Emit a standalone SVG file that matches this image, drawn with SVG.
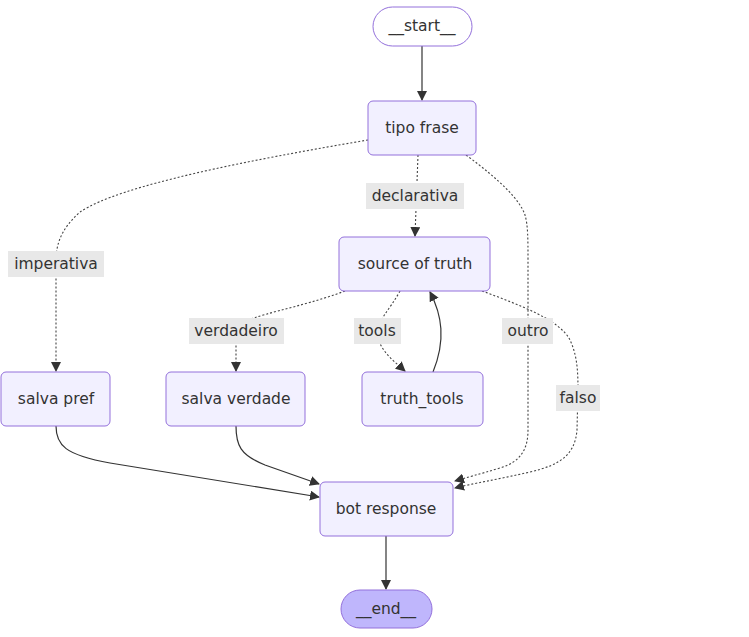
<svg xmlns="http://www.w3.org/2000/svg" width="749" height="637" viewBox="0 0 749 637">
<style>
.node rect{fill:#f2f0ff;stroke:#9370DB;stroke-width:1}
.start rect{fill:#ffffff}
.end rect{fill:#bfb6fc}
text{font-family:"DejaVu Sans","Verdana",sans-serif;font-size:15.5px;fill:#333;text-anchor:middle;dominant-baseline:central}
.e{fill:none;stroke:#333;stroke-width:1.2}
.d{stroke-dasharray:2 2;stroke:#444;stroke-width:1.1}
.lbl rect{fill:#e8e8e8}
</style>
<defs>
<marker id="arr" viewBox="0 0 10 10" refX="9" refY="5" markerWidth="10" markerHeight="10" markerUnits="userSpaceOnUse" orient="auto">
<path d="M0,0 L10,5 L0,10 z" fill="#333"/>
</marker>
</defs>
<rect width="749" height="637" fill="#ffffff"/>
<g id="connectors">
<path class="e" d="M422,46 L422,100" marker-end="url(#arr)"/>
<path class="e d" d="M368,140 C250,160 120,185 80,212 C60,230 56,245 56,262 L56,371" marker-end="url(#arr)"/>
<path class="e d" d="M418,155 L415,236" marker-end="url(#arr)"/>
<path class="e d" d="M466,155 C500,180 520,200 525,215 C528,225 528,240 528,260 L528,430 C528,450 520,462 500,468 C480,474 465,478 455,481" marker-end="url(#arr)"/>
<path class="e d" d="M345,291 C300,308 250,315 240,325 C236,330 236,335 236,345 L236,371" marker-end="url(#arr)"/>
<path class="e d" d="M400,291 C390,310 375,322 378,337 C381,352 395,362 405,371" marker-end="url(#arr)"/>
<path class="e" d="M433,372 C446,340 442,315 430,292" marker-end="url(#arr)"/>
<path class="e d" d="M482,291 C520,305 560,320 570,340 C577,355 578,370 578,390 L577,430 C575,455 560,465 530,472 C500,479 470,484 455,488" marker-end="url(#arr)"/>
<path class="e" d="M56,426 C56,445 65,455 110,463 L319,497" marker-end="url(#arr)"/>
<path class="e" d="M236,426 C236,445 240,455 265,465 L319,484" marker-end="url(#arr)"/>
<path class="e" d="M386,536 L386,589" marker-end="url(#arr)"/>
</g>
<g id="labels">
<g class="lbl"><rect x="366" y="183" width="98" height="26"/><text x="415" y="196">declarativa</text></g>
<g class="lbl"><rect x="8" y="251" width="96" height="26"/><text x="56" y="264">imperativa</text></g>
<g class="lbl"><rect x="189" y="318" width="95" height="26"/><text x="236" y="331">verdadeiro</text></g>
<g class="lbl"><rect x="354" y="318" width="47" height="26"/><text x="377" y="331">tools</text></g>
<g class="lbl"><rect x="502" y="318" width="51" height="26"/><text x="528" y="331">outro</text></g>
<g class="lbl"><rect x="556" y="385" width="44" height="26"/><text x="578" y="398">falso</text></g>
</g>
<g id="start" class="node start"><rect x="373" y="7" width="99" height="39" rx="19.5"/><text x="422" y="26">__start__</text></g>
<g id="tipo_frase" class="node"><rect x="368" y="101" width="108" height="54" rx="5"/><text x="422" y="128">tipo frase</text></g>
<g id="source_of_truth" class="node"><rect x="339" y="237" width="151" height="54" rx="5"/><text x="415" y="264">source of truth</text></g>
<g id="salva_pref" class="node"><rect x="1" y="372" width="109" height="54" rx="5"/><text x="56" y="399">salva pref</text></g>
<g id="salva_verdade" class="node"><rect x="166" y="372" width="139" height="54" rx="5"/><text x="236" y="399">salva verdade</text></g>
<g id="truth_tools" class="node"><rect x="362" y="372" width="121" height="54" rx="5"/><text x="422" y="399">truth_tools</text></g>
<g id="bot_response" class="node"><rect x="320" y="482" width="133" height="54" rx="5"/><text x="386" y="509">bot response</text></g>
<g id="end" class="node end"><rect x="341" y="590" width="91" height="38" rx="19"/><text x="386" y="609">__end__</text></g>
</svg>
